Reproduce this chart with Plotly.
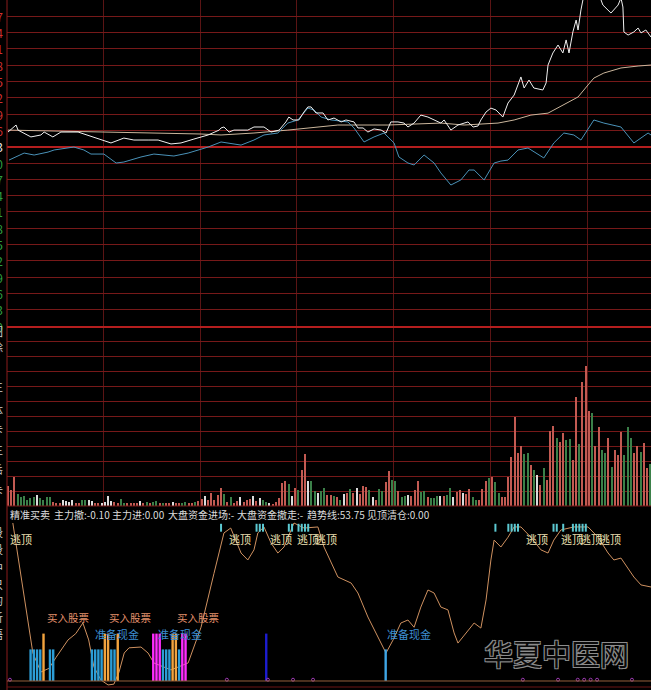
import plotly.graph_objects as go

W, H = 651, 690

# ---------------- data ----------------
# x = minute index since 09:30 ; price panel in % versus previous close
price_pts = [(0,0.90),(2.5,1.33),(3.1,1.02),(7.1,0.60),(10.2,0.72),(11.2,0.90),(13.9,0.60),(16.4,0.90),
             (21.7,0.90),(22.6,0.84),(25.7,0.60),(31.9,0.23),(35.9,0.53),(39.0,0.41),(43.4,0.41),(46.5,0.41),
             (50.5,0.17),(53.6,0.23),(57.6,0.47),(62.0,0.72),(65.4,1.02),(66.0,1.15),(66.9,1.21),(68.5,0.90),
             (70.0,1.02),(74.3,1.02),(76.2,1.21),(79.3,1.21),(81.5,0.90),(84.0,1.02),(86.1,1.52),(87.0,1.82),
             (88.3,1.64),(90.1,1.64),(91.7,2.13),(92.9,2.44),(93.9,2.44),(95.4,2.07),(97.6,2.07),(99.1,1.64),
             (101.0,1.76),(103.2,1.52),(104.7,1.64),(107.2,1.52),(108.4,1.15),(110.0,1.15),(111.5,0.90),
             (113.4,1.09),(115.6,1.02),(117.1,0.84),(118.6,1.52),(120.8,1.52),(122.7,1.45),(123.9,1.21),
             (125.8,1.45),(127.9,1.94),(130.1,1.82),(132.0,1.64),(134.1,1.45),(135.1,1.64),(137.2,1.02),
             (139.4,1.33),(142.5,1.52),(144.1,1.21),(145.6,1.27),(146.5,1.64),(148.1,2.13),(149.6,2.37),
             (151.2,2.25),(153.3,1.82),(154.9,2.68),(156.8,3.17),(158.9,4.28),(159.9,3.60),(161.4,4.09),
             (162.9,3.60),(165.7,3.48),(166.7,3.91),(167.3,5.01),(168.8,5.75),(170.4,6.24),(171.9,5.75),
             (172.9,6.55),(173.8,5.75),(175.0,7.04),(176.0,7.77),(176.6,7.16),(177.5,8.39),(178.4,9.3),
             (180.6,9.9),(182.8,9.5),(184.3,8.69),(185.9,8.39),(186.8,8.20),(189.0,8.69),(189.9,9.12),
             (190.5,8.57),(190.8,7.04),(192.1,6.85),(193.9,7.04),(195.2,7.28),(196.1,6.98),(197.6,7.16),
             (199.2,6.73)]
avg_pts = [(0,1.02),(16.4,0.96),(28.8,0.90),(44.3,0.84),(59.8,0.78),(66.0,0.72),(76.2,0.84),(86.7,1.02),
           (90.1,1.09),(94.8,1.21),(102.2,1.33),(117.7,1.33),(127.9,1.39),(134.1,1.45),(141.3,1.33),
           (151.8,1.45),(156.8,1.64),(162.0,1.94),(167.3,2.06),(172.2,2.56),(176.6,3.05),(179.7,3.79),
           (181.5,4.21),(184.6,4.52),(189.9,4.83),(195.2,4.95),(199.2,5.01)]
index_pts = [(0.3,-0.82),(5.0,-0.39),(8.1,-0.51),(12.4,-0.33),(14.3,-0.20),(20.4,-0.02),(23.5,-0.20),
             (25.7,-0.45),(29.7,-0.45),(33.5,-1.00),(35.9,-0.94),(41.2,-0.63),(45.2,-0.45),(51.4,-0.57),
             (55.8,-0.39),(62.0,-0.02),(66.0,0.29),(72.2,0.10),(76.2,0.41),(79.3,0.72),(83.6,0.84),
             (86.7,1.45),(89.8,1.64),(92.9,2.37),(94.8,2.25),(97.0,1.82),(100.1,1.64),(105.3,1.52),
             (107.2,1.15),(110.3,0.29),(113.4,0.60),(116.5,0.84),(119.6,0.23),(121.1,-0.63),(123.9,-1.00),
             (125.8,-1.12),(128.9,-0.51),(132.0,-1.00),(134.1,-1.61),(137.2,-2.35),(140.3,-2.04),
             (142.8,-1.43),(144.4,-1.43),(147.5,-2.04),(150.6,-1.00),(152.7,-0.88),(154.9,-0.82),
             (158.0,-0.20),(161.1,-0.08),(166.0,-0.69),(169.1,0.23),(172.2,0.84),(175.3,0.72),(177.5,0.41),
             (181.5,1.64),(184.6,1.45),(189.9,1.21),(193.9,0.23),(198.3,0.84),(199.2,0.72)]

price_levels = [8, 7, 6, 5, 4, 3, 2, 1, 0, -1, -2, -3, -4, -5, -6, -7, -8, -9, -10, -11]
price_labels = ["13.67", "13.54", "13.41", "13.28", "13.15", "13.02", "12.89", "12.76", "12.63", "12.50",
                "12.37", "12.24", "12.11", "11.98", "11.85", "11.72", "11.59", "11.46", "11.33", "11.20"]

# volume per minute (r = up, g = down, w = flat)
volume = [20,16,29,12,9,10,6,8,9,11, 8,6,9,9,4,3,3,6,5,4, 6,3,3,6,6,6,5,3,3,3,
          4,10,5,4,3,7,3,3,3,3, 3,5,3,4,3,4,5,3,3,3, 3,4,3,3,3,4,3,3,4,5, 7,10,6,13,
          6,11,18,12,4,9,3,5,9,4, 6,7,10,5,8,6,4,3,2,4, 8,23,25,22,10,18,16,36,52,25,
          25,15,13,15,18,11,11,10,9,6, 12,13,17,13,18,12,20,19,16,9, 6,17,15,24,35,26,25,15,9,10,
          11,10,16,25,14,15,9,8,
          8,10,10,10,11,18,9,14,16,13, 12,17,9,6,6,17,25,28,29,24, 13,9,9,29,49,89,53,60,52,53,
          41,36,31,21,38,26,75,80,68,64, 73,66,67,46,109,62,124,140,95,93, 60,79,56,53,68,39,56,51,74,51,
          79,68,53,60,54,63,38,42]
volume_dir = ("rrrggggggw" "ggggrrrwww" "wrrggwwrrw" "wwwrrggrrr" "rwrgrggrgr" "rwrrggrrgr" "rwrr"
              "rrrgrgrrwr" "rrwrwggwrr" "rrrgwrgrrw" "ggwggrrgrg" "wrgrwrrrgw" "rggrrggrgg" "wrrrggrg"
              "ggwrggwrrw" "rrggrrrgrg" "grrrrrrrgg" "rgwrgrrrgr" "rggrrgrrrg" "rrggrgrrrg" "ggrrgrrg")

# indicator panel
trend_pts = [(1.5,100),(7.7,17.7),(10.2,5.7),(12.7,8),(14.9,15),(18.6,26),(21,30),(23.2,36.7),(25,26),
             (26.6,9),(28.8,0.6),(31,-2.5),(32.8,-2),(34.4,5.7),(36,17.7),(37.5,21),(41.2,21.5),(43.4,17.7),
             (45.2,11.4),(50.5,7),(55.8,11.4),(59.8,34),(63.8,68),(66.9,93.7),(69,96.8),(72.2,81),(74.3,76.6),
             (76.2,83),(77.4,93.7),(79.3,97.5),(81.5,87.3),(83.6,81),(85.5,84.8),(87.7,95.6),(88.6,100),
             (91.7,96.8),(96,97.5),(97.9,84.8),(102.2,65.8),(106.3,62),(108.4,55.7),(111.5,40.5),(114.9,26),
             (117.1,17.7),(119.3,26),(121.7,36.7),(123.9,38.6),(125.8,34),(127.9,46.8),(130.1,57.6),(132,55.7),
             (134.1,46.8),(136.3,45),(138.2,30.4),(139.4,24),(142.5,32.3),(144.4,36.7),(146.5,33.5),
             (148.1,51.3),(149.6,76.6),(150.6,89.2),(152.7,84.8),(154.9,91),(156.8,97.5),(158.9,97.5),
             (162,91),(165.1,83),(167.3,81),(169.1,89.2),(171.3,95.6),(175.3,97.5),(179.7,97.5),(182.8,91),
             (185.9,81),(187.7,76.6),(189.9,77.8),(193.9,65.8),(196.1,60.8),(199.2,59.5)]
signal_t = [7, 8, 9, 10, 11, 13, 14, 26, 27, 28, 29, 30, 31, 32, 33, 34,
            45, 46, 47, 48, 49, 50, 51, 52, 53, 54, 55, 80, 117]
signal_kind = ["cash"] * 4 + ["buy"] + ["cash"] * 2 + ["cash"] * 4 + ["buy"] * 2 + ["cash"] * 2 + ["buy"] \
              + ["mag"] * 3 + ["cash"] * 3 + ["buy"] * 2 + ["cash"] + ["mag"] * 2 + ["dark", "light"]
signal_height = {"cash": 20, "buy": 30, "mag": 30, "dark": 30, "light": 20}
top_tick_t = [66, 77, 78, 79, 87, 88, 90, 91, 92, 93, 151, 155, 156, 157, 158, 169, 170, 172,
              175, 176, 177, 178, 179]
bump_t = [0.6, 67.8, 80.5, 88.3, 94.5, 159.5, 170.4, 176.5, 178.5, 180.5, 182.5, 193.3]
escape_t = [0, 67.8, 80.5, 88.9, 94.5, 159.9, 170.7, 176.6, 182.4]
buy_t = [11.5, 30.7, 51.7]
cash_t = [26.3, 45.8, 116.8]

header_items = [("精准买卖", 8), ("主力撤:-0.10", 52), ("主力进:0.00", 110), ("大盘资金进场:-", 166),
                ("大盘资金撤走:-", 235), ("趋势线:53.75", 305), ("见顶清仓:0.00", 365)]
time_labels = [("10:30", 187), ("13:00", 383), ("14:00", 577)]
grid_minutes = [29.5, 59.5, 89.5, 119.5, 149.5, 179.5]

# ---------------- figure ----------------
FONT = "Noto Sans CJK SC, Noto Sans, sans-serif"
GRID_H = "#761919"
GRID_V = "#5a1414"
X_RANGE = [-0.31, 199.2]
XD = [7 / W, 1]


def py(px):
    return 1 - px / H


fig = go.Figure()

# price panel
for pts, col, wd in [(avg_pts, "#cbb69c", 1), (index_pts, "#4a92b8", 1), (price_pts, "#f0f0f0", 1)]:
    fig.add_trace(go.Scatter(x=[p[0] for p in pts], y=[p[1] for p in pts], mode="lines",
                             line=dict(color=col, width=wd), xaxis="x", yaxis="y", hoverinfo="skip"))

# volume panel
cmap = {"r": "#c25a52", "g": "#3b8049", "w": "#dcdcdc"}
fig.add_trace(go.Bar(x=list(range(len(volume))), y=volume, width=0.38,
                     marker=dict(color=[cmap[c] for c in volume_dir], line=dict(width=0)),
                     xaxis="x2", yaxis="y2", hoverinfo="skip"))

# indicator panel
fig.add_trace(go.Scatter(x=[p[0] for p in trend_pts], y=[p[1] for p in trend_pts], mode="lines",
                         line=dict(color="#cf9160", width=1), xaxis="x3", yaxis="y3", hoverinfo="skip"))
kind_color = {"cash": "#2c9dd6", "buy": "#f2a33e", "mag": "#ff2cff", "dark": "#1c1ccf", "light": "#3fa6e6"}
for kind, col in kind_color.items():
    xs, ys = [], []
    for t, k in zip(signal_t, signal_kind):
        if k == kind:
            xs += [t, t, None]
            ys += [0, signal_height[k], None]
    fig.add_trace(go.Scatter(x=xs, y=ys, mode="lines", line=dict(color=col, width=2.4),
                             xaxis="x3", yaxis="y3", hoverinfo="skip"))
xs, ys = [], []
for t in top_tick_t:
    xs += [t, t, None]
    ys += [94.5, 99.5, None]
fig.add_trace(go.Scatter(x=xs, y=ys, mode="lines", line=dict(color="#5cc9d2", width=2),
                         xaxis="x3", yaxis="y3", hoverinfo="skip"))
fig.add_trace(go.Scatter(x=bump_t, y=[0.8] * len(bump_t), mode="markers",
                         marker=dict(symbol="circle-open", size=3, color="#a03cb4", line=dict(width=1)),
                         xaxis="x3", yaxis="y3", hoverinfo="skip"))

ann = []
for v, lab in zip(price_levels, price_labels):
    col = "#d23030" if v > 0 else ("#e6e6e6" if v == 0 else "#2fa040")
    ann.append(dict(x=5 / W, xref="paper", y=v, yref="y", text=lab, showarrow=False, xanchor="right",
                    yanchor="middle", font=dict(family=FONT, size=12, color=col)))
for txt, ypx in [("图", 331), ("除", 347), ("主", 386), ("体", 410), ("卡", 429), ("主", 449), ("岳", 469),
                 ("卡", 490), ("段", 532), ("段", 549), ("中", 567), ("只", 584), ("的", 600), ("析", 617),
                 ("语", 634)]:
    ann.append(dict(x=5 / W, xref="paper", y=py(ypx), yref="paper", text=txt, showarrow=False,
                    xanchor="right", yanchor="middle", font=dict(family=FONT, size=11, color="#cfcfcf")))
for txt, xpx in header_items:
    ann.append(dict(x=xpx / W, xref="paper", y=py(514), yref="paper", text=txt, showarrow=False,
                    xanchor="left", yanchor="middle", font=dict(family=FONT, size=10, color="#dcdcdc")))
for t in escape_t:
    ann.append(dict(x=t, xref="x3", y=89.9, yref="y3", text="逃顶", showarrow=False, xanchor="left",
                    yanchor="middle", font=dict(family=FONT, size=11, color="#efe2b4")))
for t in buy_t:
    ann.append(dict(x=t, xref="x3", y=39.9, yref="y3", text="买入股票", showarrow=False, xanchor="left",
                    yanchor="middle", font=dict(family=FONT, size=10.5, color="#e3906c")))
for t in cash_t:
    ann.append(dict(x=t, xref="x3", y=29.7, yref="y3", text="准备现金", showarrow=False, xanchor="left",
                    yanchor="middle", font=dict(family=FONT, size=11, color="#3d8ed2")))
for txt, xpx in time_labels:
    ann.append(dict(x=xpx / W, xref="paper", y=py(685), yref="paper", text=txt, showarrow=False,
                    xanchor="center", yanchor="top", font=dict(family=FONT, size=12, color="#cccccc")))
ann.append(dict(x=556 / W, xref="paper", y=py(653), yref="paper", text="华夏中医网", showarrow=False,
                xanchor="center", yanchor="middle",
                font=dict(family=FONT, size=29, color="#0a0a0a",
                          shadow="1px 1px 0 #8c8c8c, -1px -1px 0 #8c8c8c, 1px -1px 0 #8c8c8c, -1px 1px 0 #8c8c8c")))

shapes = [
    dict(type="line", xref="paper", yref="paper", x0=7 / W, x1=7 / W, y0=0, y1=1,
         line=dict(color="#8c1c1c", width=1)),
    dict(type="line", xref="paper", yref="paper", x0=7 / W, x1=1, y0=py(327), y1=py(327),
         line=dict(color="#b41e1e", width=2)),
    dict(type="line", xref="paper", yref="paper", x0=7 / W, x1=1, y0=py(506), y1=py(506),
         line=dict(color=GRID_H, width=1)),
    dict(type="line", xref="paper", yref="y3", x0=7 / W, x1=1, y0=0, y1=0,
         line=dict(color="#94603c", width=1)),
    dict(type="line", xref="paper", yref="paper", x0=7 / W, x1=1, y0=py(687), y1=py(687),
         line=dict(color="#6a1414", width=1)),
]

xa = dict(domain=XD, range=X_RANGE, tickvals=grid_minutes, showticklabels=False, ticks="",
          showgrid=True, gridcolor=GRID_V, gridwidth=1, zeroline=False, showline=False, fixedrange=True)
fig.update_layout(
    width=W, height=H, margin=dict(l=0, r=0, t=0, b=0),
    paper_bgcolor="#000000", plot_bgcolor="#000000", showlegend=False, bargap=0,
    xaxis=dict(xa, anchor="y"),
    xaxis2=dict(xa, anchor="y2"),
    xaxis3=dict(xa, anchor="y3", showgrid=False),
    yaxis=dict(domain=[py(327), 1], range=[-11.06, 9.0], dtick=1, tick0=0, showticklabels=False, ticks="",
               showgrid=True, gridcolor=GRID_H, gridwidth=1, zeroline=True, zerolinecolor="#b41e1e",
               zerolinewidth=2, anchor="x", fixedrange=True),
    yaxis2=dict(domain=[py(506), py(327)], range=[0, 179], dtick=15, tick0=0, showticklabels=False, ticks="",
                showgrid=True, gridcolor=GRID_H, gridwidth=1, zeroline=False, anchor="x2", fixedrange=True),
    yaxis3=dict(domain=[0, py(506)], range=[-5.70, 110.76], showticklabels=False, ticks="", showgrid=False,
                zeroline=False, anchor="x3", fixedrange=True),
    annotations=ann, shapes=shapes,
)

fig.write_html("out.html", config={"displayModeBar": False},
               post_script="document.body.style.margin='0';document.body.style.padding='0';"
                           "document.body.style.background='#000';")
